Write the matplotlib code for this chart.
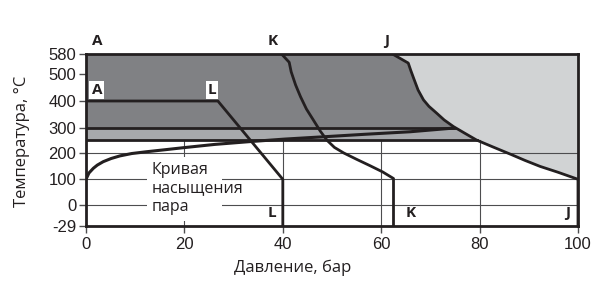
import numpy as np
import matplotlib
matplotlib.use("Agg")
import matplotlib.pyplot as plt

# ---- data ----
x_ticks = [0, 20, 40, 60, 80, 100]
y_ticks = [-29, 0, 100, 200, 300, 400, 500, 580]
y_tick_pos = [0, 20.7, 46.4, 72.7, 98.0, 124.7, 151.4, 171.4]  # non-uniform axis spacing

sat_p = [0, 0.6, 1.5, 2.3, 3.5, 5.1, 6.9, 9.3, 12.3, 16.1, 19.8, 26.2, 33.3, 40.4, 48.2, 56.7, 65.9, 75.0]
sat_t = [100, 124, 142, 154, 167, 179, 189, 198, 205, 213, 221, 234, 245, 255, 264, 274, 284, 299]

K_p = [39.8, 41.3, 41.7, 42.6, 43.6, 44.8, 46.2, 47.6, 49.0, 50.5, 52.4, 55.0, 57.7, 60.3, 62.5, 62.5]
K_t = [580, 548, 510, 460, 416, 370, 329, 287, 250, 222, 200, 176, 152, 128, 103, -29]

J_p = [62.4, 65.5, 66.0, 66.6, 67.5, 68.6, 69.7, 71.3, 72.8, 74.7, 77.0, 79.4, 82.7, 86.2, 89.2, 92.3, 95.9, 100, 100]
J_t = [580, 545, 516, 485, 441, 404, 380, 354, 329, 304, 278, 251, 224, 196, 172, 149, 127, 100, -29]

L_p = [0, 26.8, 40, 40]
L_t = [400, 400, 100, -29]

band_lo, band_mid, band_hi = 250, 300, 580

C_DARK = "#808184"
C_MID = "#a7a9ac"
C_LIGHT = "#d1d3d4"
C_LINE = "#231f20"
C_GRID = "#4d4d4f"

def fwd(t):
    return np.interp(t, y_ticks, y_tick_pos)

def inv(p):
    return np.interp(p, y_tick_pos, y_ticks)

def jx(t):
    return np.interp(t, J_t[::-1][1:], J_p[::-1][1:])

fig = plt.figure(figsize=(6, 2.98), dpi=100)
ax = fig.add_axes([86/600, (298-225.7)/298, 492/600, 171.4/298])
ax.set_yscale('function', functions=(fwd, inv))
ax.set_xlim(0, 100)
ax.set_ylim(-29, 580)

# fills
yy = np.linspace(band_mid, band_hi, 300)
ax.fill_betweenx(yy, 0, jx(yy), color=C_DARK, lw=0, zorder=1)
yy = np.linspace(band_lo, band_mid, 100)
ax.fill_betweenx(yy, 0, jx(yy), color=C_MID, lw=0, zorder=1)
yy = np.linspace(100, band_hi, 400)
ax.fill_betweenx(yy, jx(yy), 100, color=C_LIGHT, lw=0, zorder=1)

# thin grid lines
for t in [0, 100, 200]:
    ax.plot([0, 100], [t, t], color=C_GRID, lw=0.8, zorder=2)
for p in [20, 40, 60, 80]:
    ax.plot([p, p], [-29, band_lo], color=C_GRID, lw=0.8, zorder=2)

# white mask behind the curve caption
ax.fill_between([12.4, 27.6], -22, 185, color="white", lw=0, zorder=2.5)

# thick boundaries
for t in [band_lo, band_mid]:
    ax.plot([0, jx(t)], [t, t], color=C_LINE, lw=2.0, zorder=3)
ax.plot(sat_p, sat_t, color=C_LINE, lw=2.2, zorder=3, solid_capstyle='butt')
ax.plot(K_p, K_t, color=C_LINE, lw=2.0, zorder=3)
ax.plot(J_p, J_t, color=C_LINE, lw=2.0, zorder=3)
ax.plot(L_p, L_t, color=C_LINE, lw=2.0, zorder=3)

# text
bold = dict(family="Open Sans", fontweight="bold", fontsize=11, color=C_LINE,
            ha="center", va="center", zorder=5)
box = dict(facecolor="white", edgecolor="none", pad=1.5)
ax.text(2.2, 441, "A", bbox=box, **bold)
ax.text(25.6, 441, "L", bbox=box, **bold)
ax.text(37.8, -11, "L", **bold)
ax.text(65.9, -11, "K", **bold)
ax.text(98, -11, "J", **bold)
top_tr = ax.get_xaxis_transform()
for lbl, p in [("A", 2.2), ("K", 38.0), ("J", 61.2)]:
    ax.text(p, 1.075, lbl, transform=top_tr, **bold)

ax.text(13.4, 166, "Кривая\nнасыщения\nпара", family="Open Sans", fontsize=11.5,
        color=C_LINE, ha="left", va="top", linespacing=1.22, zorder=4)

# axes styling
for s in ax.spines.values():
    s.set_linewidth(2.0)
    s.set_color(C_LINE)
    s.set_zorder(6)
ax.set_xticks(x_ticks)
ax.set_yticks(y_ticks)
ax.set_yticklabels([str(v) for v in y_ticks])
ax.tick_params(direction="out", length=5, width=1, color=C_GRID,
               labelsize=12, labelcolor=C_LINE, pad=2)
ax.tick_params(axis="x", pad=3)
for lab in ax.get_xticklabels() + ax.get_yticklabels():
    lab.set_family("Liberation Sans")

ax.text(0.419, -0.247, "Давление, бар", transform=ax.transAxes, family="Open Sans",
        fontsize=12, color=C_LINE, ha="center", va="center")
ax.text(-0.13, 0.49, "Температура, °C", transform=ax.transAxes, family="Open Sans",
        fontsize=12, color=C_LINE, ha="center", va="center", rotation=90)

fig.savefig("out.png", dpi=100)
